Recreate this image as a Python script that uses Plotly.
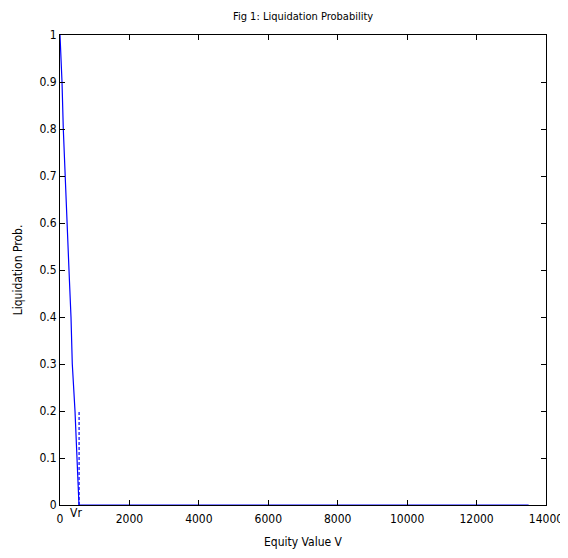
import plotly.graph_objects as go

# Data
equity_v = [0, 20, 58, 95, 144, 193, 259, 317, 354, 432, 481, 547, 13500]
liq_prob = [1.0, 0.97, 0.9, 0.8, 0.7, 0.6, 0.5, 0.4, 0.3, 0.2, 0.1, 0.0, 0.0]
vr_value = 550
vr_dash_y = [0.0, 0.2]
x_ticks = [0, 2000, 4000, 6000, 8000, 10000, 12000, 14000]
y_ticks = [0, 0.1, 0.2, 0.3, 0.4, 0.5, 0.6, 0.7, 0.8, 0.9, 1.0]

FONT = "DejaVu Sans Condensed, Liberation Sans Narrow, sans-serif"

fig = go.Figure()
fig.add_trace(go.Scatter(x=equity_v, y=liq_prob, mode="lines",
                         line=dict(color="#0000ff", width=1.2), showlegend=False))
fig.add_trace(go.Scatter(x=[vr_value, vr_value], y=vr_dash_y, mode="lines",
                         line=dict(color="#0000ff", width=1.2, dash="3px,2px"), showlegend=False))

fig.add_annotation(x=vr_value, y=0, xref="x", yref="y", text="Vr", showarrow=False,
                   yanchor="top", xanchor="right", yshift=1, xshift=5,
                   font=dict(family=FONT, size=12, color="black"))

# page has an 8px body margin; figure is sized so its right/bottom edges meet the window
fig.update_layout(
    width=560, height=550,
    margin=dict(l=52, r=22, t=27, b=53),
    paper_bgcolor="white", plot_bgcolor="white",
    font=dict(family=FONT, size=12, color="black"),
    title=dict(text="Fig 1: Liquidation Probability", x=0.527, xanchor="center",
               yref="container", y=0.9855, yanchor="middle",
               font=dict(family=FONT, size=11, color="black")),
    xaxis=dict(range=[0, 14000], tickvals=x_ticks, ticktext=[str(v) for v in x_ticks],
               ticks="inside", ticklen=5, tickcolor="black", showline=True, linecolor="black",
               linewidth=1, mirror="ticks", showgrid=False, zeroline=False, automargin=False,
               tickfont=dict(family=FONT, size=12), ticklabelstandoff=3,
               title=dict(text="Equity Value V", standoff=12, font=dict(family=FONT, size=12))),
    yaxis=dict(range=[0, 1], tickvals=y_ticks, ticktext=[("%g" % v) for v in y_ticks],
               ticks="inside", ticklen=5, tickcolor="black", showline=True, linecolor="black",
               linewidth=1, mirror="ticks", showgrid=False, zeroline=False, automargin=False,
               tickfont=dict(family=FONT, size=12),
               title=dict(text="Liquidation Prob.", standoff=14, font=dict(family=FONT, size=12))),
)

fig.write_html("out.html")
